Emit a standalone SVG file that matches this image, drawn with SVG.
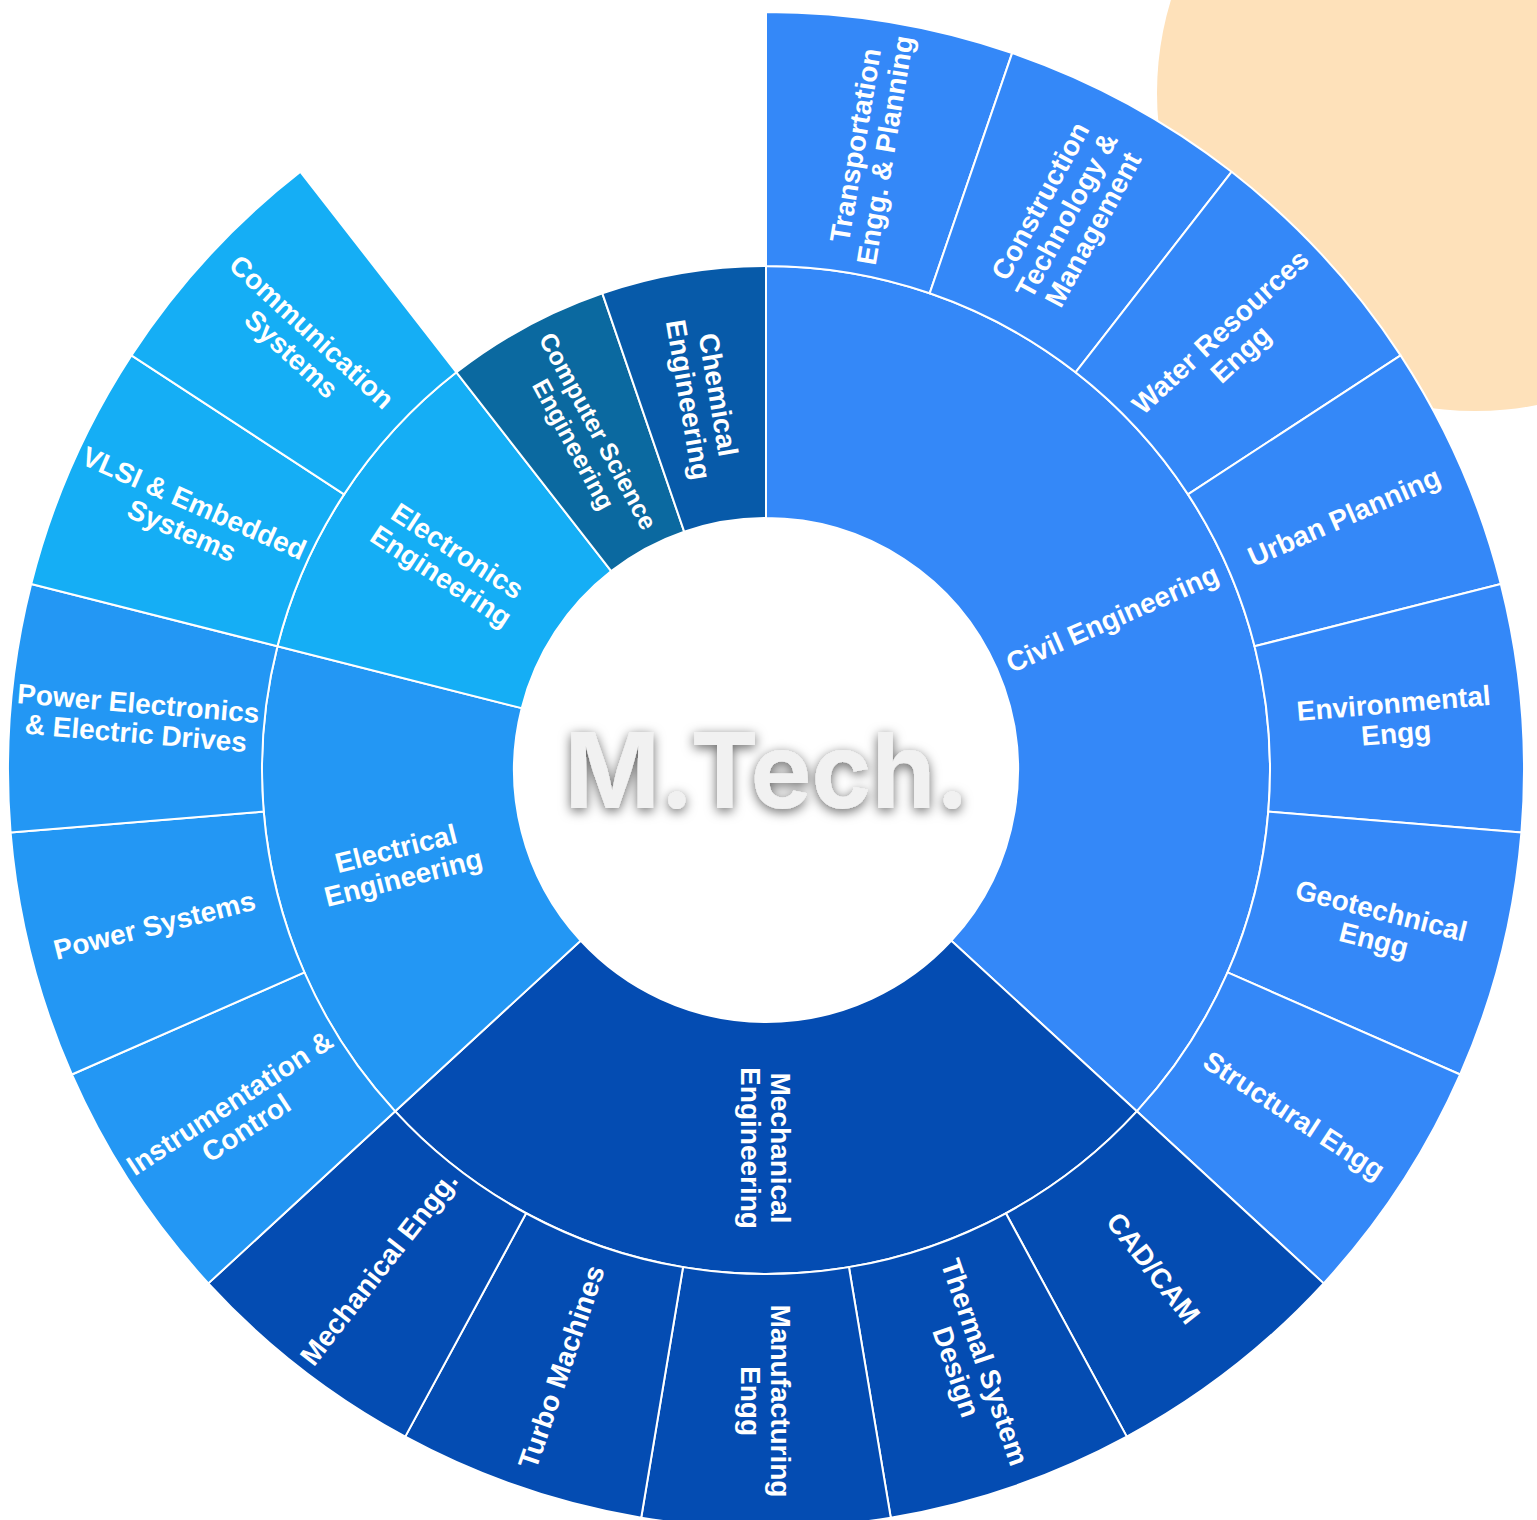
<svg xmlns="http://www.w3.org/2000/svg" xmlns:xlink="http://www.w3.org/1999/xlink" width="1537" height="1520" viewBox="0 0 1537 1520">
<style>
.seg{stroke:#fff;stroke-width:2;stroke-linejoin:round}
.civil{fill:#3488F8}
.mech{fill:#044CB2}
.elec{fill:#2397F4}
.ectr{fill:#15AEF5}
.cs{fill:#0B69A0}
.chem{fill:#075AA9}
.lbl{font-family:'Liberation Sans',Arial,sans-serif;font-weight:700;font-size:28px;fill:#fff;text-anchor:middle}
.sm{font-size:25px}
.ctr{font-family:Inter,'Liberation Sans',Arial,sans-serif;font-weight:700;font-size:105px;fill:#f1f1f1;text-anchor:middle}
</style>
<defs>
<path id="leaf" d="M0,-504 L0,-758 A758,758 0 0 1 246.12,-716.93 L163.65,-476.69 A504,504 0 0 0 0,-504 Z"/>
<filter id="ts" x="-20%" y="-50%" width="140%" height="200%">
<feDropShadow dx="0" dy="3" stdDeviation="6" flood-color="#000" flood-opacity="0.6"/>
</filter>
</defs>
<rect width="1537" height="1520" fill="#fff"/>
<circle cx="1475" cy="93" r="318" fill="#FEE1BA"/>

<g id="inner-ring">
<g id="civil-engineering">
<path class="seg civil" transform="translate(766 770)" d="M0,-252 L0,-504 A504,504 0 0 1 370.81,341.36 L185.40,170.68 A252,252 0 0 0 0,-252 Z"/>
<text class="lbl" transform="translate(766 770) rotate(66.316) translate(0 -378) rotate(-90)" y="10">Civil Engineering</text>
</g>
<g id="mechanical-engineering">
<path class="seg mech" transform="translate(766 770) rotate(132.632)" d="M0,-252 L0,-504 A504,504 0 0 1 502.28,41.62 L251.14,20.81 A252,252 0 0 0 0,-252 Z"/>
<text class="lbl" transform="translate(766 770) rotate(180) translate(0 -378) rotate(-90)"><tspan x="0" y="-5">Mechanical</tspan><tspan x="0" y="25">Engineering</tspan></text>
</g>
<g id="electrical-engineering">
<path class="seg elec" transform="translate(766 770) rotate(227.368)" d="M0,-252 L0,-504 A504,504 0 0 1 421.93,-275.66 L210.97,-137.83 A252,252 0 0 0 0,-252 Z"/>
<text class="lbl" transform="translate(766 770) rotate(255.789) translate(0 -378) rotate(90)"><tspan x="0" y="-5">Electrical</tspan><tspan x="0" y="25">Engineering</tspan></text>
</g>
<g id="electronics-engineering">
<path class="seg ectr" transform="translate(766 770) rotate(284.211)" d="M0,-252 L0,-504 A504,504 0 0 1 309.56,-397.73 L154.78,-198.86 A252,252 0 0 0 0,-252 Z"/>
<text class="lbl" transform="translate(766 770) rotate(303.158) translate(0 -378) rotate(90)"><tspan x="0" y="-5">Electronics</tspan><tspan x="0" y="25">Engineering</tspan></text>
</g>
<g id="computer-science-engineering">
<path class="seg cs" transform="translate(766 770) rotate(322.105)" d="M0,-252 L0,-504 A504,504 0 0 1 163.65,-476.69 L81.82,-238.35 A252,252 0 0 0 0,-252 Z"/>
<text class="lbl sm" transform="translate(766 770) rotate(331.579) translate(0 -378) rotate(90)"><tspan x="0" y="-5">Computer Science</tspan><tspan x="0" y="23">Engineering</tspan></text>
</g>
<g id="chemical-engineering">
<path class="seg chem" transform="translate(766 770) rotate(341.053)" d="M0,-252 L0,-504 A504,504 0 0 1 163.65,-476.69 L81.82,-238.35 A252,252 0 0 0 0,-252 Z"/>
<text class="lbl" transform="translate(766 770) rotate(350.526) translate(0 -378) rotate(90)"><tspan x="0" y="-5">Chemical</tspan><tspan x="0" y="25">Engineering</tspan></text>
</g>
</g>

<g id="outer-ring">
<g id="transportation">
<use xlink:href="#leaf" class="seg civil" transform="translate(766 770) rotate(0)"/>
<text class="lbl" transform="translate(766 770) rotate(9.474) translate(0 -631) rotate(-90)"><tspan x="0" y="-5">Transportation</tspan><tspan x="0" y="25">Engg. &amp; Planning</tspan></text>
</g>
<g id="construction">
<use xlink:href="#leaf" class="seg civil" transform="translate(766 770) rotate(18.947)"/>
<text class="lbl" transform="translate(766 770) rotate(28.421) translate(0 -631) rotate(-90)"><tspan x="0" y="-20">Construction</tspan><tspan x="0" y="10">Technology &amp;</tspan><tspan x="0" y="40">Management</tspan></text>
</g>
<g id="water-resources">
<use xlink:href="#leaf" class="seg civil" transform="translate(766 770) rotate(37.895)"/>
<text class="lbl" transform="translate(766 770) rotate(47.368) translate(0 -631) rotate(-90)"><tspan x="0" y="-5">Water Resources</tspan><tspan x="0" y="25">Engg</tspan></text>
</g>
<g id="urban-planning">
<use xlink:href="#leaf" class="seg civil" transform="translate(766 770) rotate(56.842)"/>
<text class="lbl" transform="translate(766 770) rotate(66.316) translate(0 -631) rotate(-90)" y="10">Urban Planning</text>
</g>
<g id="environmental">
<use xlink:href="#leaf" class="seg civil" transform="translate(766 770) rotate(75.789)"/>
<text class="lbl" transform="translate(766 770) rotate(85.263) translate(0 -631) rotate(-90)"><tspan x="0" y="-5">Environmental</tspan><tspan x="0" y="25">Engg</tspan></text>
</g>
<g id="geotechnical">
<use xlink:href="#leaf" class="seg civil" transform="translate(766 770) rotate(94.737)"/>
<text class="lbl" transform="translate(766 770) rotate(104.211) translate(0 -631) rotate(-90)"><tspan x="0" y="-5">Geotechnical</tspan><tspan x="0" y="25">Engg</tspan></text>
</g>
<g id="structural">
<use xlink:href="#leaf" class="seg civil" transform="translate(766 770) rotate(113.684)"/>
<text class="lbl" transform="translate(766 770) rotate(123.158) translate(0 -631) rotate(-90)" y="10">Structural Engg</text>
</g>
<g id="cad-cam">
<use xlink:href="#leaf" class="seg mech" transform="translate(766 770) rotate(132.632)"/>
<text class="lbl" transform="translate(766 770) rotate(142.105) translate(0 -631) rotate(-90)" y="10">CAD/CAM</text>
</g>
<g id="thermal-system-design">
<use xlink:href="#leaf" class="seg mech" transform="translate(766 770) rotate(151.579)"/>
<text class="lbl" transform="translate(766 770) rotate(161.053) translate(0 -631) rotate(-90)"><tspan x="0" y="-5">Thermal System</tspan><tspan x="0" y="25">Design</tspan></text>
</g>
<g id="manufacturing">
<use xlink:href="#leaf" class="seg mech" transform="translate(766 770) rotate(170.526)"/>
<text class="lbl" transform="translate(766 770) rotate(180) translate(0 -631) rotate(-90)"><tspan x="0" y="-5">Manufacturing</tspan><tspan x="0" y="25">Engg</tspan></text>
</g>
<g id="turbo-machines">
<use xlink:href="#leaf" class="seg mech" transform="translate(766 770) rotate(189.474)"/>
<text class="lbl" transform="translate(766 770) rotate(198.947) translate(0 -631) rotate(90)" y="10">Turbo Machines</text>
</g>
<g id="mechanical-engg">
<use xlink:href="#leaf" class="seg mech" transform="translate(766 770) rotate(208.421)"/>
<text class="lbl" transform="translate(766 770) rotate(217.895) translate(0 -631) rotate(90)" y="10">Mechanical Engg.</text>
</g>
<g id="instrumentation-control">
<use xlink:href="#leaf" class="seg elec" transform="translate(766 770) rotate(227.368)"/>
<text class="lbl" transform="translate(766 770) rotate(236.842) translate(0 -631) rotate(90)"><tspan x="0" y="-5">Instrumentation &amp;</tspan><tspan x="0" y="25">Control</tspan></text>
</g>
<g id="power-systems">
<use xlink:href="#leaf" class="seg elec" transform="translate(766 770) rotate(246.316)"/>
<text class="lbl" transform="translate(766 770) rotate(255.789) translate(0 -631) rotate(90)" y="10">Power Systems</text>
</g>
<g id="power-electronics">
<use xlink:href="#leaf" class="seg elec" transform="translate(766 770) rotate(265.263)"/>
<text class="lbl" transform="translate(766 770) rotate(274.737) translate(0 -631) rotate(90)"><tspan x="0" y="-5">Power Electronics</tspan><tspan x="0" y="25">&amp; Electric Drives</tspan></text>
</g>
<g id="vlsi-embedded">
<use xlink:href="#leaf" class="seg ectr" transform="translate(766 770) rotate(284.211)"/>
<text class="lbl" transform="translate(766 770) rotate(293.684) translate(0 -631) rotate(90)"><tspan x="0" y="-5">VLSI &amp; Embedded</tspan><tspan x="0" y="25">Systems</tspan></text>
</g>
<g id="communication-systems">
<use xlink:href="#leaf" class="seg ectr" transform="translate(766 770) rotate(303.158)"/>
<text class="lbl" transform="translate(766 770) rotate(312.632) translate(0 -631) rotate(90)"><tspan x="0" y="-5">Communication</tspan><tspan x="0" y="25">Systems</tspan></text>
</g>
</g>

<g id="center">
<circle cx="766" cy="770" r="251" fill="#fff"/>
<text class="ctr" x="767" y="808" textLength="405" lengthAdjust="spacingAndGlyphs" filter="url(#ts)">M.Tech.</text>
</g>
</svg>
